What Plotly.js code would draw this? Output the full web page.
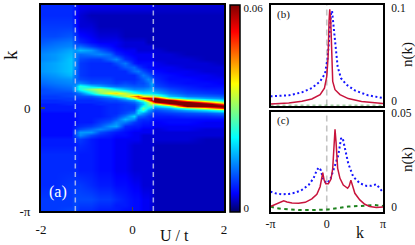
<!DOCTYPE html>
<html><head><meta charset="utf-8">
<script src="https://cdn.plot.ly/plotly-3.0.1.min.js"></script>
<style>html,body{margin:0;padding:0;background:#fff;overflow:hidden}</style>
</head><body><div id="c" style="width:415px;height:245px"></div>
<script>
// k / pi, top to bottom
const kRows=[1,.9,.8,.7,.64,.6,.56,.52,.48,.44,.4,.36,.32,.28,.24,.21,.18,.15,.12,.1,.08,.06,.04,.02,0,-.02,-.05,-.08,-.11,-.14,-.17,-.2,-.23,-.26,-.3,-.36,-.45,-.6,-.75,-.88,-.94,-1];
const uCols=[-2,-1.7,-1.35,-1.25,-1.15,-.9,-.7,-.5,-.35,-.16,.03,.13,.24,.33,.42,.5,.8,1.2,1.6,2];
// n(k) in units of 0.001, one list per U column, same order as kRows
const zColumns=[
[8,8,9,10,11,12,13,14,14,15,15,15,14,13,12,11,10,10,9,9,8,8,7,7,7,7,6,6,6,6,6,6,6,6,7,7,8,8,8,9,9,9],
[8,8,9,10,12,13,14,15,15,16,16,16,15,14,13,12,11,10,9,9,8,8,7,7,7,7,6,6,6,6,6,6,6,6,7,7,8,8,8,9,9,9],
[8,8,9,11,13,14,16,17,18,18,18,18,17,15,14,13,12,10,10,9,9,8,8,7,7,7,6,6,6,6,6,6,6,6,7,7,8,8,9,9,9,10],
[7,6,7,9,10,11,15,14,14,14,14,13,13,12,13,15,16,11,10,9,8,8,7,7,7,7,6,6,6,6,7,8,10,10,8,7,8,8,9,10,10,10],
[5,4,4,6,8,12,17,12,10,9,9,9,9,10,14,24,23,13,10,9,8,8,7,7,7,7,7,7,7,7,8,10,15,14,9,8,7,7,9,10,9,8],
[5,3,4,5,6,9,15,13,9,8,8,8,8,9,11,19,30,21,11,9,8,8,7,7,7,7,7,7,7,7,9,12,15,10,7,7,7,7,8,10,9,8],
[5,3,3,4,5,7,11,14,9,8,8,8,8,9,11,16,33,30,14,10,9,8,8,7,7,7,7,7,8,9,11,14,10,8,6,6,6,6,7,9,8,7],
[5,3,3,4,5,6,8,12,12,8,8,8,8,9,10,13,26,37,18,12,10,9,8,8,8,8,8,8,9,11,15,12,8,7,6,6,6,6,7,9,8,7],
[5,3,3,4,5,5,6,8,14,10,8,8,8,8,9,12,21,39,24,14,10,9,8,8,8,8,8,9,11,14,16,10,7,6,5,5,5,5,6,8,7,7],
[5,3,3,3,4,4,5,6,8,13,11,8,8,8,10,12,17,34,33,19,13,10,9,9,9,9,10,13,17,13,8,7,6,6,5,5,5,5,6,7,7,6],
[5,3,3,3,4,4,5,5,6,7,12,12,8,8,9,11,14,25,44,32,16,12,10,9,9,10,13,19,14,9,7,6,5,5,5,4,4,4,5,6,6,6],
[5,3,3,3,4,4,4,5,5,6,9,13,10,9,10,11,14,22,48,42,22,15,13,13,15,19,19,12,9,8,7,6,5,5,5,4,4,4,5,6,6,6],
[5,3,3,3,4,4,4,5,5,6,7,10,13,11,10,11,14,20,38,54,30,20,18,22,28,25,15,11,8,7,6,5,5,4,4,4,4,4,4,5,5,5],
[5,3,3,3,3,4,4,5,5,6,6,8,11,14,12,12,15,20,35,55,47,30,27,25,21,16,12,9,8,7,6,5,5,4,4,4,4,4,4,5,5,5],
[5,3,3,3,3,4,4,5,5,6,6,7,9,12,16,15,16,20,33,52,60,42,34,24,17,13,10,8,7,6,6,5,5,4,4,4,4,4,4,4,4,4],
[4,3,3,3,3,3,4,4,4,5,5,6,7,8,9,10,13,18,32,58,70,55,30,18,13,10,8,7,6,5,5,4,4,4,4,3,3,3,3,3,3,3],
[4,3,3,3,3,3,3,4,4,4,5,5,6,6,7,8,10,13,18,32,62,70,50,26,16,12,9,7,6,6,5,5,4,4,4,3,3,3,3,3,3,3],
[4,3,3,3,3,3,3,3,4,4,4,5,5,6,6,7,8,10,13,20,38,62,70,60,28,16,10,8,6,6,5,5,4,4,4,3,3,3,3,3,3,3],
[4,3,3,3,3,3,3,3,3,4,4,4,5,5,6,6,7,9,12,16,26,46,66,62,38,20,11,8,6,5,5,4,4,4,3,3,3,3,3,3,3,3],
[4,3,3,3,3,3,3,3,3,3,4,4,4,5,5,6,7,8,11,14,20,30,48,64,52,26,13,9,6,5,5,4,4,4,3,3,3,3,3,3,3,3]
];
const bK=[-1,-.676,-.441,-.265,-.118,-.041,0,.024,.041,.053,.071,.088,.106,.147,.235,.382,.618,1];
const bRed=[.0016,.0026,.0042,.0065,.0108,.0173,.0288,.0484,.0843,.0958,.0843,.0386,.0239,.0157,.0108,.0069,.0039,.002];
const bBlueK=[-1,-.676,-.441,-.265,-.118,-.029,.018,.053,.076,.094,.118,.147,.194,.253,.353,.5,.735,1];
const bBlue=[.0092,.0101,.0131,.0173,.0239,.032,.0484,.0745,.0909,.0942,.0811,.0582,.0386,.0271,.0206,.015,.0101,.0075];
const bGreenK=[-1,-.5,0,.5,1];
const bGreen=[.0002,.0002,.0002,.0004,.0002];
const cRedK=[-1,-.912,-.824,-.765,-.706,-.618,-.5,-.382,-.265,-.176,-.118,-.088,-.071,-.047,-.018,.029,.076,.106,.129,.147,.165,.194,.235,.294,.371,.4,.429,.459,.5,.588,.676,.765,.882,1];
const cRed=[.0025,.0036,.0046,.0053,.0048,.0043,.0041,.0046,.0063,.0086,.0124,.0174,.0194,.0157,.0139,.0139,.0162,.0215,.0348,.0411,.0348,.0215,.0166,.0132,.0116,.0128,.0157,.0124,.0091,.0058,.0036,.0025,.002,.0022];
const cBlueK=[-1,-.912,-.794,-.676,-.559,-.441,-.324,-.235,-.176,-.141,-.106,-.059,0,.059,.118,.206,.253,.282,.324,.382,.471,.588,.706,.794,.882,.924,1];
const cBlue=[.0099,.0091,.0086,.0088,.0094,.0108,.0132,.0166,.0207,.022,.0207,.0157,.0141,.0157,.0207,.0282,.0364,.0369,.0315,.024,.0174,.0141,.0128,.0129,.0136,.0121,.0096];
const cGreenK=[-1,-.912,-.794,-.676,-.5,-.265,-.088,.029,.206,.382,.618,.853,1];
const cGreen=[.0025,.0018,.0013,.001,.0007,.0007,.0007,.001,.0017,.0025,.0028,.0032,.0028];

const W=415,H=245, SERIF='"Liberation Serif",serif', INK='#111';
const dx=(a,b)=>[a/W,b/W], dy=(top,bot)=>[1-bot/H,1-top/H];
const y=kRows.slice().reverse();
const z=y.map((_,r)=>zColumns.map(col=>col[kRows.length-1-r]));
const jet=[[0,'#000064'],[.09,'#0000ff'],[.36,'#00ffff'],[.62,'#ffff00'],[.87,'#ff0000'],[1,'#800000']];
const RED='#c8143c',BLUE='#1414ff',GREEN='#1e821e';
const line=(xa,ya,xs,ys,c,d,w)=>({type:'scatter',mode:'lines',x:xs,y:ys,xaxis:xa,yaxis:ya,hoverinfo:'skip',showlegend:false,line:{color:c,dash:d,width:w}});
const data=[
{type:'heatmap',x:uCols,y:y,z:z,zmin:0,zmax:60,zsmooth:'best',colorscale:jet,hoverinfo:'skip',
 colorbar:{x:229.5/W,xanchor:'left',y:1-4.5/H,yanchor:'top',len:207/H,lenmode:'fraction',thickness:9.5,thicknessmode:'pixels',xpad:0,ypad:0,
  outlinewidth:1.5,outlinecolor:'#000',tickmode:'array',tickvals:[1,59],ticktext:['0','0.06'],ticks:'',ticklen:0,tickfont:{family:SERIF,size:11,color:INK}}},
line('x2','y2',bGreenK,bGreen,GREEN,'3px,3px',1),
line('x2','y2',bBlueK,bBlue,BLUE,'2px,2.5px',2),
line('x2','y2',bK,bRed,RED,'solid',1.5),
line('x3','y3',cGreenK,cGreen,GREEN,'3.5px,3.5px',2),
line('x3','y3',cBlueK,cBlue,BLUE,'2px,2.5px',2),
line('x3','y3',cRedK,cRed,RED,'solid',1.5)
];
const ax={showgrid:false,zeroline:false,showline:true,linecolor:'#000',linewidth:2,mirror:true,tickfont:{family:SERIF,size:13,color:INK}};
const gray='#c4c4c4';
const wl='rgba(200,205,235,0.8)';
const ann=(x,y,t,s,rot,col)=>({xref:'paper',yref:'paper',x:x/W,y:1-y/H,text:t,showarrow:false,textangle:rot||0,font:{family:SERIF,size:s,color:col||INK},xanchor:'center',yanchor:'middle'});
const layout={width:W,height:H,margin:{l:0,r:0,t:0,b:0},paper_bgcolor:'#fff',plot_bgcolor:'#fff',showlegend:false,
 xaxis:Object.assign({},ax,{domain:dx(41,224),range:[-2,2],tickmode:'array',tickvals:[-2,0,2],ticktext:['-2','0','2'],ticks:'inside',ticklen:4,tickwidth:1.5,ticklabelstandoff:5}),
 yaxis:Object.assign({},ax,{domain:dy(5,211),range:[-1,1],tickmode:'array',tickvals:[-1,0,1],ticktext:['-π','0','π'],ticks:'inside',ticklen:4,tickwidth:1.5,ticklabelstandoff:6}),
 xaxis2:Object.assign({},ax,{anchor:'y2',domain:dx(270.5,383),range:[-1,1],showticklabels:false,ticks:''}),
 yaxis2:Object.assign({},ax,{anchor:'x2',side:'right',domain:dy(5,105.5),range:[0,.1],tickmode:'array',tickvals:[.005,.097],ticktext:['0','0.1'],ticks:'',ticklabelstandoff:4,tickfont:{family:SERIF,size:11.5,color:INK}}),
 xaxis3:Object.assign({},ax,{anchor:'y3',domain:dx(270.5,383),range:[-1,1],tickmode:'array',tickvals:[-1,0,1],ticktext:['-π','0','π'],ticks:'',ticklabelstandoff:0,tickfont:{family:SERIF,size:12,color:INK}}),
 yaxis3:Object.assign({},ax,{anchor:'x3',side:'right',domain:dy(111.5,211.5),range:[0,.05],tickmode:'array',tickvals:[.0025,.0495],ticktext:['0','0.05'],ticks:'',ticklabelstandoff:4,tickfont:{family:SERIF,size:11.5,color:INK}}),
 shapes:[
  {type:'line',xref:'x',yref:'y',x0:-1.25,x1:-1.25,y0:-1,y1:1,line:{color:wl,dash:'5px,3.5px',width:1.5}},
  {type:'line',xref:'x',yref:'y',x0:.455,x1:.455,y0:-1,y1:1,line:{color:wl,dash:'5px,3.5px',width:1.5}},
  {type:'line',xref:'x2',yref:'y2',x0:0,x1:0,y0:0,y1:.1,layer:'below',line:{color:gray,dash:'6px,4px',width:1.6}},
  {type:'line',xref:'x3',yref:'y3',x0:0,x1:0,y0:0,y1:.05,layer:'below',line:{color:gray,dash:'6px,4px',width:1.6}}
 ],
 annotations:[
  ann(10,55,'k',19,-90),ann(174,235,'U / t',16),ann(58,192,'(a)',16,0,'#fff'),
  ann(283,15,'(b)',11),ann(283,121,'(c)',11),
  ann(407,55,'n(k)',15,-90),ann(407,160,'n(k)',15,-90),ann(360,232,'k',16)
 ]};
Plotly.newPlot('c',data,layout,{staticPlot:true,displayModeBar:false});
</script></body></html>
